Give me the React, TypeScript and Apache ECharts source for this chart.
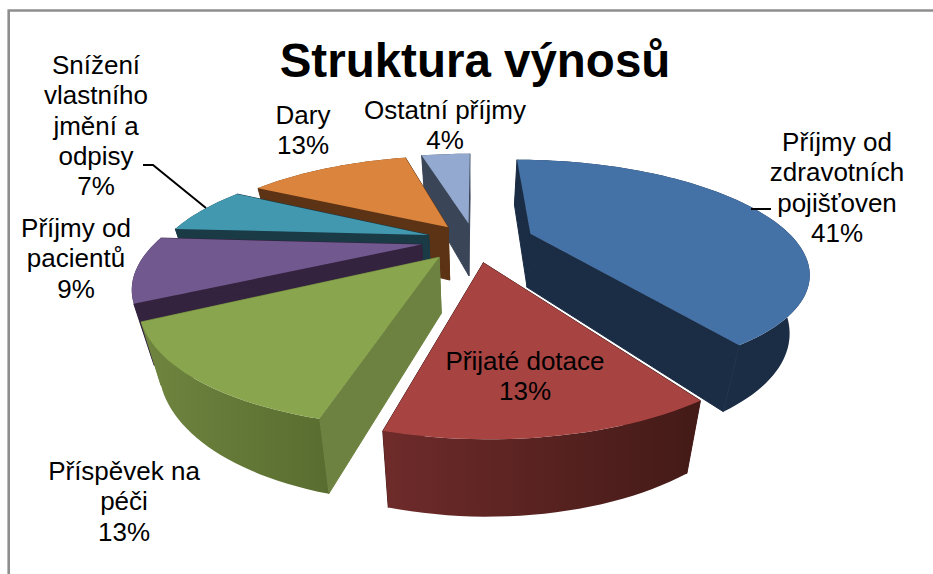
import React, { useEffect, useRef } from "react";
import * as echarts from "echarts";

const TITLE = "Struktura výnosů";
const categories = [
  "Příjmy od zdravotních pojišťoven",
  "Přijaté dotace",
  "Příspěvek na péči",
  "Příjmy od pacientů",
  "Snížení vlastního jmění a odpisy",
  "Dary",
  "Ostatní příjmy",
];
const shares = [41, 13, 13, 9, 7, 13, 4];
const drawOrder = [6, 5, 4, 0, 3, 2, 1];

const topColors = ["#4471a6", "#a74442", "#89a54e", "#71588f", "#4198af", "#db843d", "#93a9cf"];
const faceColors = ["#1b2c45", "#4a1c1a", "#6d8240", "#33233e", "#1a3a46", "#5c3314", "#3a4558"];
const wallLeft = ["#1b2c45", "#6e2b2a", "#6f853f", "#33233e", "#1a3a46", "#5c3314", "#3a4558"];
const wallRight = ["#1b2c45", "#431a17", "#596d30", "#33233e", "#1a3a46", "#5c3314", "#3a4558"];
const explode = [60, 56, 54, 53, 48, 44, 46];

const labelLines = [
  ["Příjmy od", "zdravotních", "pojišťoven", "41%"],
  ["Přijaté dotace", "13%"],
  ["Příspěvek na", "péči", "13%"],
  ["Příjmy od", "pacientů", "9%"],
  ["Snížení", "vlastního", "jmění a", "odpisy", "7%"],
  ["Dary", "13%"],
  ["Ostatní příjmy", "4%"],
];
const labelAnchors = [
  [837, 142],
  [525, 361],
  [124, 471],
  [76, 228],
  [96, 65],
  [303, 115],
  [445, 110],
];
const leaderLines = [
  [[751, 209], [771, 209]],
  [[143, 165], [153, 165], [206, 208]],
];

const CX = 474;
const CY = 240;
const RADIUS = 264;
const K = 0.00121;
const FORE = 0.383;
const BOTTOM_SHRINK = 0.94;
const LINE_H = 30.3;

const total = shares.reduce((a, b) => a + b, 0);
const starts: number[] = [];
shares.reduce((acc, v, i) => {
  starts[i] = acc;
  return acc + v;
}, 0);

function project(x: number, y: number) {
  const w = 1 + K * y;
  return { x: CX + x / w, y: CY - (FORE * y) / w, inv: 1 / w };
}
function top(p: { x: number; y: number }): number[] {
  return [p.x, p.y];
}
function bottom(p: { x: number; y: number; inv: number }): number[] {
  return [CX + BOTTOM_SHRINK * (p.x - CX), p.y + 17.7 + 36.6 * p.inv];
}

function renderSlice(_params: any, api: any) {
  const i = api.value(1) as number;
  const share = api.value(0) as number;
  const a0 = (starts[i] / total) * Math.PI * 2;
  const a1 = a0 + (share / total) * Math.PI * 2;
  const mid = (a0 + a1) / 2;
  const ex = explode[i] * Math.sin(mid);
  const ey = explode[i] * Math.cos(mid);
  const apex = project(ex, ey);
  const rim: ReturnType<typeof project>[] = [];
  const steps = Math.max(4, Math.round((a1 - a0) / 0.03));
  for (let s = 0; s <= steps; s++) {
    const a = a0 + ((a1 - a0) * s) / steps;
    rim.push(project(ex + RADIUS * Math.sin(a), ey + RADIUS * Math.cos(a)));
  }
  const first = rim[0];
  const last = rim[rim.length - 1];
  const poly = (points: number[][], fill: any, stroke?: string) => ({
    type: "polygon",
    silent: true,
    shape: { points },
    style: stroke ? { fill, stroke, lineWidth: 1 } : { fill },
  });
  return {
    type: "group",
    children: [
      poly([top(apex), top(first), bottom(first), bottom(apex)], faceColors[i], faceColors[i]),
      poly([top(apex), top(last), bottom(last), bottom(apex)], faceColors[i], faceColors[i]),
      poly(
        [...rim.map(top), ...rim.slice().reverse().map(bottom)],
        new echarts.graphic.LinearGradient(0, 0, 1, 0, [
          { offset: 0, color: wallLeft[i] },
          { offset: 1, color: wallRight[i] },
        ])
      ),
      poly([top(apex), ...rim.map(top)], topColors[i]),
    ],
  };
}

export default function App() {
  const ref = useRef<HTMLDivElement>(null);
  useEffect(() => {
    document.body.style.margin = "0";
    const chart = echarts.init(ref.current!, null, { renderer: "svg" });
    const labelGraphics = labelLines.flatMap((lines, i) =>
      lines.map((line, j) => ({
        type: "text",
        x: labelAnchors[i][0],
        y: labelAnchors[i][1] + j * LINE_H,
        z: 10,
        silent: true,
        style: {
          text: line,
          fill: "#000",
          font: '26px "Liberation Sans", Arial, sans-serif',
          textAlign: "center",
          textVerticalAlign: "middle",
        },
      }))
    );
    chart.setOption({
      animation: false,
      backgroundColor: "#fff",
      title: {
        text: TITLE,
        left: 470,
        top: 31,
        textAlign: "center",
        textStyle: {
          fontFamily: '"Liberation Sans", Arial, sans-serif',
          fontWeight: "bold",
          fontSize: 47.5,
          color: "#000",
        },
      },
      series: [
        {
          type: "custom",
          coordinateSystem: "none",
          renderItem: renderSlice,
          silent: true,
          data: drawOrder.map((i) => ({ name: categories[i], value: [shares[i], i] })),
        },
      ],
      graphic: [
        {
          type: "polyline",
          silent: true,
          z: 9,
          shape: { points: [[8.7, 574], [8.7, 10.5], [933, 10.5]] },
          style: { stroke: "#8e8e8e", lineWidth: 2.6, fill: "none" },
        },
        ...leaderLines.map((points) => ({
          type: "polyline",
          silent: true,
          z: 9,
          shape: { points },
          style: { stroke: "#000", lineWidth: 2, fill: "none" },
        })),
        ...labelGraphics,
      ],
    });
    return () => chart.dispose();
  }, []);
  return <div ref={ref} style={{ position: "fixed", left: 0, top: 0, width: 933, height: 574 }} />;
}
